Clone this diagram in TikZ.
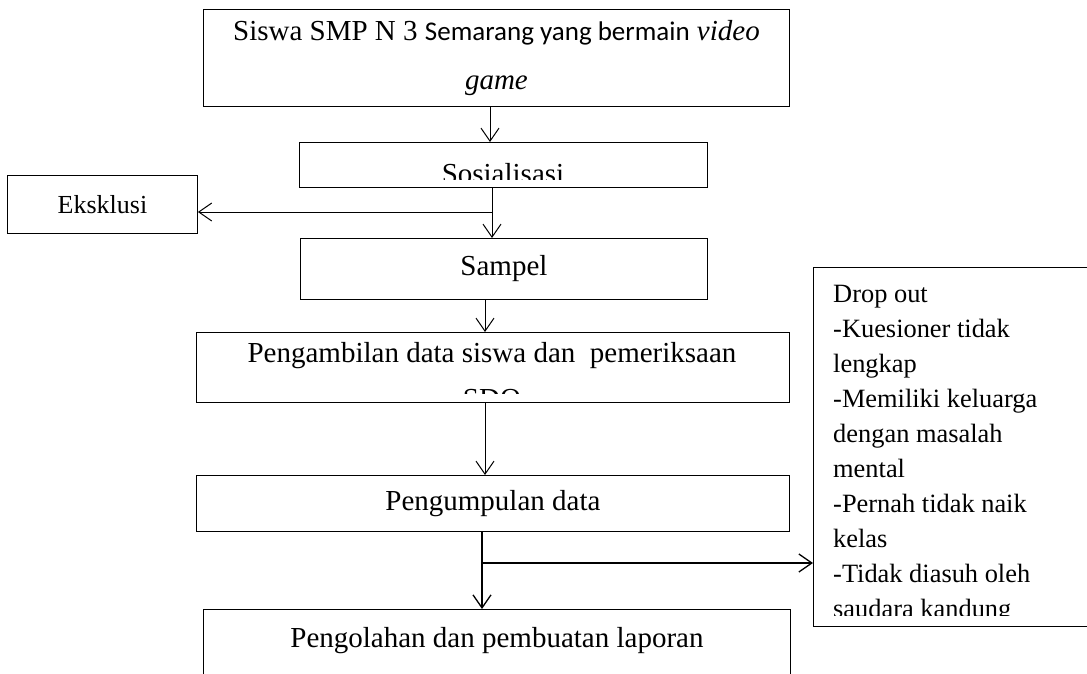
\documentclass[tikz,border=0pt]{standalone}
\usepackage{fontspec}
\setmainfont{Liberation Serif}
\newfontfamily\calibri{Carlito}
\usetikzlibrary{arrows.meta}

\newcommand{\hurufbesar}{\fontsize{29}{49}\selectfont}
\newcommand{\hurufsedang}{\fontsize{26}{31}\selectfont}
\newcommand{\hurufkecil}{\fontsize{26.4}{35.1}\selectfont}

\tikzset{
  kotak/.style={draw, line width=0.9pt, inner sep=0pt, anchor=north west, font=\hurufbesar},
  panah/.style={-{Straight Barb[length=13pt,width=18pt]}, line width=1pt}
}

\begin{document}
\begin{tikzpicture}[x=1pt,y=-1pt]
  \useasboundingbox (0,0) rectangle (1087,673);

  % Kotak-kotak utama
  \node[kotak, minimum width=586pt, minimum height=97pt, align=center] (siswa) at (203,9)
    {Siswa SMP N 3 {\calibri\fontsize{27}{49}\selectfont Semarang yang bermain} \textit{video}\\\textit{game}};
  \node[kotak, minimum width=408pt, minimum height=45pt] (sos) at (299,142) {};
  \node[kotak, minimum width=190pt, minimum height=58pt, font=\hurufsedang] (eks) at (7,175) {Eksklusi};
  \node[kotak, minimum width=407pt, minimum height=61pt] (sampel) at (300,238) {Sampel};
  \node[kotak, minimum width=593pt, minimum height=70pt] (ambil) at (196,332) {};
  \node[kotak, minimum width=593pt, minimum height=56pt] (kumpul) at (196,475) {Pengumpulan data};
  \node[kotak, minimum width=587pt, minimum height=91pt, text height=20pt, text depth=35pt] (olah) at (203,609)
    {Pengolahan dan pembuatan laporan};
  \node[kotak, minimum width=290pt, minimum height=359pt] (drop) at (813,267) {};

  % Teks yang terpotong
  \begin{scope}
    \clip (sos.north west) rectangle (707,179);
    \node[font=\hurufbesar, anchor=base] (sosteks) at (503,183) {Sosialisasi};
  \end{scope}
  \begin{scope}
    \clip (ambil.north west) rectangle (789,393);
    \node[font=\hurufbesar, anchor=base] (ambil1) at (492,362) {Pengambilan data siswa dan~~pemeriksaan};
    \node[font=\hurufbesar, anchor=base] (ambil2) at (492,408) {SDQ};
  \end{scope}
  \begin{scope}
    \clip (drop.north west) rectangle (1087,615);
    \foreach \i/\baris in {0/Drop out, 1/-Kuesioner tidak, 2/lengkap, 3/-Memiliki keluarga,
      4/dengan masalah, 5/mental, 6/-Pernah tidak naik, 7/kelas, 8/-Tidak diasuh oleh, 9/saudara kandung}
      \node[font=\hurufkecil, anchor=base west, inner sep=0pt] (baris\i) at (833,{302+35.1*\i}) {\baris};
  \end{scope}

  % Panah
  \coordinate (cab1) at (492,212);
  \coordinate (cab2) at (482,563);
  \draw[panah] (siswa.south -| 490,0) -- (sos.north -| 490,0);
  \draw[line width=1pt] (sos.south -| cab1) -- (cab1);
  \draw[panah] (cab1) -- (sampel.north -| cab1);
  \draw[panah] (cab1) -- (cab1 -| eks.east);
  \draw[panah] (sampel.south -| 485,0) -- (ambil.north -| 485,0);
  \draw[panah] (ambil.south -| 485,0) -- (kumpul.north -| 485,0);
  \draw[panah, line width=1.3pt] (kumpul.south -| cab2) -- (olah.north -| cab2);
  \draw[panah, line width=1.3pt] (cab2) -- (cab2 -| drop.west);
\end{tikzpicture}
\end{document}
